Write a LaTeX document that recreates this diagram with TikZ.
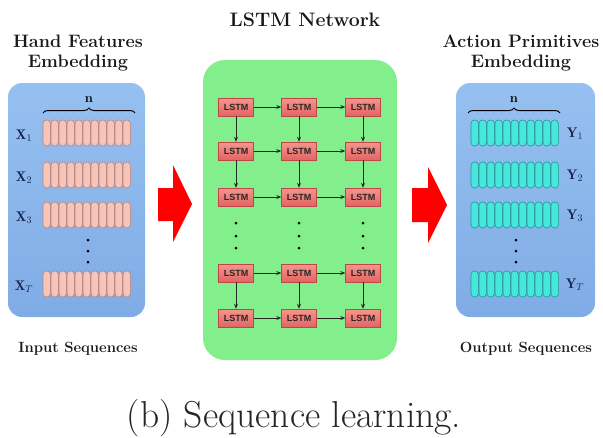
\documentclass[tikz,border=0pt]{standalone}
\usepackage{fontspec}
\usepackage{amsmath}
\newfontfamily\lstmfont{Liberation Sans}
\usetikzlibrary{arrows.meta,decorations.pathreplacing,calc}
\definecolor{bluebox}{RGB}{128,172,230}
\definecolor{blueboxtop}{RGB}{150,192,240}
\definecolor{greenbox}{RGB}{130,238,140}
\definecolor{lstmtop}{RGB}{246,150,140}
\definecolor{lstmbot}{RGB}{226,100,100}
\definecolor{lstmedge}{RGB}{190,70,70}
\definecolor{pinkcap}{RGB}{248,196,184}
\definecolor{pinkedge}{RGB}{190,128,118}
\definecolor{cyancap}{RGB}{70,232,220}
\definecolor{cyanedge}{RGB}{30,150,150}
\definecolor{navy}{RGB}{25,35,80}
\tikzset{
  panel/.style={rounded corners=14pt},
  lstm/.style={top color=lstmtop, bottom color=lstmbot, draw=lstmedge, line width=0.4pt,
    minimum width=35pt, minimum height=18pt, inner sep=0pt,
    font=\lstmfont\bfseries\fontsize{9}{9}\selectfont, text=black!85},
  flow/.style={-{Stealth[length=5pt,width=4pt]}, line width=0.8pt, black!85},
  heading/.style={font=\bfseries\fontsize{18}{20}\selectfont, text=black!90, anchor=base},
  subheading/.style={font=\bfseries\fontsize{14.8}{16}\selectfont, text=black!90, anchor=base},
  seqlabel/.style={font=\fontsize{14}{15}\selectfont, text=navy},
  blockarrow/.style={fill=red},
  vdot/.style={circle, fill=black, inner sep=0pt, minimum size=3pt},
}
\begin{document}
\begin{tikzpicture}[x=1pt,y=-1pt]
\useasboundingbox (0,0) rectangle (603,437);

% titles
\node[heading, font=\bfseries\fontsize{19.5}{22}\selectfont] (title) at (305,26) {LSTM Network};
\node[heading] (lt1) at (78,47) {Hand Features};
\node[heading] (lt2) at (78,67) {Embedding};
\node[heading] (rt1) at (521,47) {Action Primitives};
\node[heading] (rt2) at (521,67) {Embedding};

% panels
\shade[panel, top color=blueboxtop, bottom color=bluebox] (8,83) rectangle (145,317);
\shade[panel, top color=blueboxtop, bottom color=bluebox] (456,83) rectangle (595,317);
\fill[greenbox, rounded corners=22pt] (203,60) rectangle (397,360);

% braces
\draw[decorate, decoration={brace, amplitude=5pt}, line width=1pt] (43,113) -- (135,113);
\node[font=\bfseries\fontsize{13}{14}\selectfont] (nl) at (89,100) {n};
\draw[decorate, decoration={brace, amplitude=5pt}, line width=1pt] (468,113) -- (560,113);
\node[font=\bfseries\fontsize{13}{14}\selectfont] (nr) at (514,100) {n};

% capsules
\foreach \yy in {133,175,215,284} {
  \foreach \i in {0,...,10} {
    \filldraw[fill=pinkcap, draw=pinkedge, line width=0.6pt, rounded corners=3.4pt]
      (43+\i*8,\yy-13) rectangle ++(7.4,26);
    \filldraw[fill=cyancap, draw=cyanedge, line width=0.6pt, rounded corners=3.4pt]
      (471+\i*8,\yy-13) rectangle ++(7.4,26);
  }
}
% sequence labels
\node[seqlabel] (x1) at (24,136) {$\mathbf{X}_1$};
\node[seqlabel] (x2) at (24,178) {$\mathbf{X}_2$};
\node[seqlabel] (x3) at (24,218) {$\mathbf{X}_3$};
\node[seqlabel] (xt) at (24,287) {$\mathbf{X}_T$};
\node[seqlabel] (y1) at (575,134) {$\mathbf{Y}_1$};
\node[seqlabel] (y2) at (575,176) {$\mathbf{Y}_2$};
\node[seqlabel] (y3) at (575,216) {$\mathbf{Y}_3$};
\node[seqlabel] (yt) at (575,285) {$\mathbf{Y}_T$};
\foreach \yy [count=\k] in {240,251,262} {
  \node[vdot] (ld\k) at (88,\yy) {};
  \node[vdot] (rd\k) at (516,\yy) {};
}

% bottom labels
\node[subheading] (inl) at (78,352) {Input Sequences};
\node[subheading] (outl) at (526,352) {Output Sequences};

% red arrows
\fill[blockarrow] (158,188) -- (173,188) -- (173,165) -- (192,204) -- (173,242) -- (173,221) -- (158,221) -- cycle;
\fill[blockarrow] (412,188) -- (428,188) -- (428,167) -- (447,205) -- (428,243) -- (428,222) -- (412,222) -- cycle;

% LSTM grid
\foreach \r/\yy in {1/107,2/151,3/197,4/273,5/318} {
  \foreach \c/\xx in {1/236,2/299,3/363} {
    \node[lstm] (l\r\c) at (\xx,\yy) {LSTM};
  }
}
\foreach \r in {1,...,5} {
  \draw[flow] (l\r1) -- (l\r2);
  \draw[flow] (l\r2) -- (l\r3);
}
\foreach \c in {1,2,3} {
  \draw[flow] (l1\c) -- (l2\c);
  \draw[flow] (l2\c) -- (l3\c);
  \draw[flow] (l4\c) -- (l5\c);
}
\foreach \c/\xx in {1/236,2/299,3/363} {
  \foreach \yy [count=\k] in {223,236,248} {
    \node[vdot] (gd\c\k) at (\xx,\yy) {};
  }
}

% caption
\node[anchor=base, font=\fontsize{37.5}{40}\selectfont, text=black!85] (cap) at (294,427) {(b) Sequence learning.};
\end{tikzpicture}
\end{document}
